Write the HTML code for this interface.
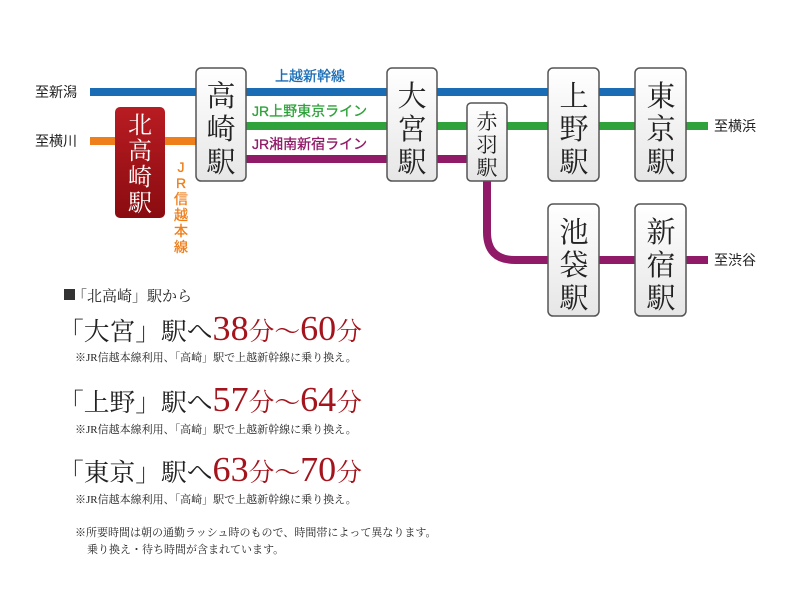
<!DOCTYPE html>
<html><head><meta charset="utf-8"><style>
html,body{margin:0;padding:0;background:#fff;}
svg{display:block;}
.s{font-family:"Liberation Serif","Noto Serif CJK SC",serif;}
.k{font-family:"Noto Serif CJK SC",serif;}
.g{font-family:"Liberation Sans","Noto Sans CJK JP",sans-serif;}
</style></head><body>
<svg width="800" height="598" viewBox="0 0 800 598" xmlns="http://www.w3.org/2000/svg">
<defs>
<linearGradient id="bx" x1="0" y1="0" x2="0" y2="1"><stop offset="0" stop-color="#fff"/><stop offset="1" stop-color="#e6e6e6"/></linearGradient>
<linearGradient id="rd" x1="0" y1="0" x2="0" y2="1"><stop offset="0" stop-color="#b81c22"/><stop offset="1" stop-color="#8a0c10"/></linearGradient>
</defs>
<rect x="90" y="88" width="548" height="8" fill="#1a6db5"/>
<rect x="90" y="137" width="108" height="8" fill="#ee7f1a"/>
<rect x="245" y="122" width="463" height="8" fill="#2fa23b"/>
<rect x="245" y="155" width="225" height="8" fill="#911a68"/>
<path d="M487 180 V232 Q487 260 515 260 H708" fill="none" stroke="#911a68" stroke-width="8"/>
<g class="g" font-size="14" stroke-width="0.3">
<text x="275" y="81" fill="#1a6db5" stroke="#1a6db5">上越新幹線</text>
<text x="252" y="116" fill="#2fa23b" stroke="#2fa23b">JR上野東京ライン</text>
<text x="252" y="149" fill="#911a68" stroke="#911a68">JR湘南新宿ライン</text>
<g fill="#ee7f1a" stroke="#ee7f1a" text-anchor="middle"><text x="181" y="172">J</text><text x="181" y="188">R</text><text x="181" y="204">信</text><text x="181" y="220">越</text><text x="181" y="236">本</text><text x="181" y="252">線</text></g>
</g>
<g class="g" font-size="14" fill="#222">
<text x="35" y="97">至新潟</text>
<text x="35" y="146">至横川</text>
<text x="714" y="131">至横浜</text>
<text x="714" y="265">至渋谷</text>
</g>
<g stroke="#555" stroke-width="1.5" fill="url(#bx)">
<rect x="196" y="68" width="50" height="113" rx="5"/>
<rect x="387" y="68" width="50" height="113" rx="5"/>
<rect x="467" y="103" width="40" height="78" rx="4"/>
<rect x="548" y="68" width="51" height="113" rx="5"/>
<rect x="635" y="68" width="51" height="113" rx="5"/>
<rect x="548" y="204" width="51" height="112" rx="5"/>
<rect x="635" y="204" width="51" height="112" rx="5"/>
</g>
<rect x="115" y="107" width="50" height="111" rx="5" fill="url(#rd)"/>
<g class="k" font-size="29" fill="#222" text-anchor="middle">
<text x="221" y="106">高</text><text x="221" y="139">崎</text><text x="221" y="172">駅</text>
<text x="412" y="106">大</text><text x="412" y="139">宮</text><text x="412" y="172">駅</text>
<text x="574" y="106">上</text><text x="574" y="139">野</text><text x="574" y="172">駅</text>
<text x="661" y="106">東</text><text x="661" y="139">京</text><text x="661" y="172">駅</text>
<text x="574" y="242">池</text><text x="574" y="275">袋</text><text x="574" y="308">駅</text>
<text x="661" y="242">新</text><text x="661" y="275">宿</text><text x="661" y="308">駅</text>
</g>
<g class="k" font-size="21" fill="#222" text-anchor="middle">
<text x="487" y="129">赤</text><text x="487" y="152">羽</text><text x="487" y="175">駅</text>
</g>
<g class="k" font-size="24" fill="#fff" text-anchor="middle">
<text x="140" y="133">北</text><text x="140" y="159">高</text><text x="140" y="185">崎</text><text x="140" y="211">駅</text>
</g>
<g class="s" fill="#222">
<rect x="64" y="289" width="11" height="11" fill="#333"/>
<text x="72" y="301" font-size="15">「北高崎」駅から</text>
<text x="58" y="340" font-size="25" textLength="304" lengthAdjust="spacingAndGlyphs">「大宮」駅へ<tspan fill="#a3141c" font-size="35">38</tspan><tspan fill="#a3141c" font-size="25">分～</tspan><tspan fill="#a3141c" font-size="35">60</tspan><tspan fill="#a3141c" font-size="25">分</tspan></text>
<text x="75" y="361" font-size="11">※JR信越本線利用、「高崎」駅で上越新幹線に乗り換え。</text>
<text x="58" y="411" font-size="25" textLength="304" lengthAdjust="spacingAndGlyphs">「上野」駅へ<tspan fill="#a3141c" font-size="35">57</tspan><tspan fill="#a3141c" font-size="25">分～</tspan><tspan fill="#a3141c" font-size="35">64</tspan><tspan fill="#a3141c" font-size="25">分</tspan></text>
<text x="75" y="433" font-size="11">※JR信越本線利用、「高崎」駅で上越新幹線に乗り換え。</text>
<text x="58" y="481" font-size="25" textLength="304" lengthAdjust="spacingAndGlyphs">「東京」駅へ<tspan fill="#a3141c" font-size="35">63</tspan><tspan fill="#a3141c" font-size="25">分～</tspan><tspan fill="#a3141c" font-size="35">70</tspan><tspan fill="#a3141c" font-size="25">分</tspan></text>
<text x="75" y="503" font-size="11">※JR信越本線利用、「高崎」駅で上越新幹線に乗り換え。</text>
<text x="75" y="536" font-size="11">※所要時間は朝の通勤ラッシュ時のもので、時間帯によって異なります。</text>
<text x="87" y="553" font-size="11">乗り換え・待ち時間が含まれています。</text>
</g>
</svg>
</body></html>
